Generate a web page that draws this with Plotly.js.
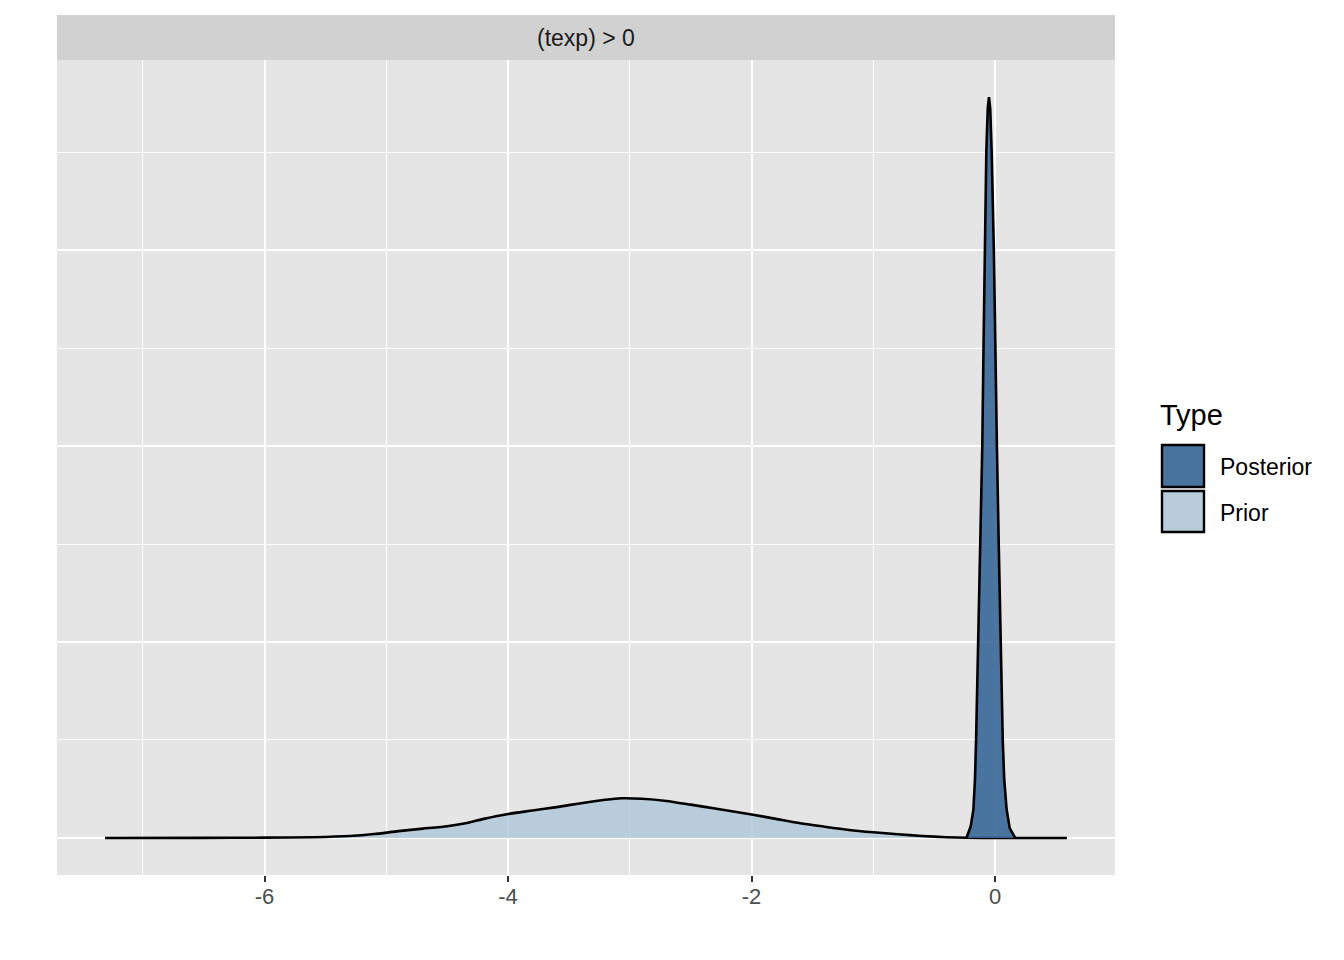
<!DOCTYPE html>
<html>
<head>
<meta charset="utf-8">
<script src="https://cdn.plot.ly/plotly-3.0.1.min.js"></script>
<style>html,body{margin:0;padding:0;background:#fff;}#chart{width:1344px;height:960px;}</style>
</head>
<body>
<div id="chart"></div>
<script>
// Prior density
const priorX = [-7.31, -6.5, -6.0, -5.6, -5.3, -5.1, -4.9, -4.7, -4.5, -4.35, -4.2, -4.0, -3.8, -3.6, -3.4, -3.2, -3.07, -2.9, -2.7, -2.5, -2.3, -2.0, -1.8, -1.6, -1.4, -1.2, -1.0, -0.8, -0.6, -0.4, -0.23, 0.0, 0.3, 0.59];
const priorY = [0, 0.001, 0.003, 0.008, 0.02, 0.04, 0.07, 0.095, 0.12, 0.15, 0.195, 0.245, 0.28, 0.315, 0.355, 0.39, 0.405, 0.40, 0.378, 0.34, 0.30, 0.24, 0.195, 0.15, 0.115, 0.082, 0.058, 0.038, 0.02, 0.008, 0.002, 0.0005, 0, 0];
// Posterior density
const postX = [-0.235, -0.20, -0.178, -0.165, -0.156, -0.137, -0.12, -0.105, -0.095, -0.085, -0.072, -0.06, -0.05, -0.04, -0.028, -0.01, 0.0, 0.015, 0.03, 0.045, 0.063, 0.075, 0.095, 0.12, 0.165];
const postY = [0, 0.12, 0.29, 0.6, 1.0, 2.0, 3.0, 4.0, 5.0, 6.0, 7.0, 7.45, 7.56, 7.45, 7.0, 6.0, 5.0, 4.0, 3.0, 2.0, 1.0, 0.6, 0.29, 0.1, 0];
const xTickVals = [-6, -4, -2, 0];
const xTickText = ["-6", "-4", "-2", "0"];
const seriesNames = ["Posterior", "Prior"];
const stripLabel = "(texp) > 0";
const legendTitle = "Type";

const postFill = "rgba(57,103,152,0.9)";
const priorFill = "rgba(174,198,217,0.8)";
const postKey = "#4A74A0";
const priorKey = "#B9CCDB";

const traces = [
  {x: priorX, y: priorY, type: "scatter", mode: "lines", fill: "tozeroy",
   fillcolor: priorFill, line: {color: "#000", width: 2.6, shape: "spline", smoothing: 0.6},
   name: seriesNames[1], showlegend: false, hoverinfo: "skip"},
  {x: postX, y: postY, type: "scatter", mode: "lines", fill: "tozeroy",
   fillcolor: postFill, line: {color: "#000", width: 2.6},
   name: seriesNames[0], showlegend: false, hoverinfo: "skip"}
];

const W = 1344, H = 960, L = 57, R = 229, T = 60, B = 85;
const pw = W - L - R, ph = H - T - B;
const px = v => (v - L) / pw;       // pixel -> paper x
const py = v => (H - B - v) / ph;   // pixel -> paper y

const font = "Liberation Sans, Arial, Helvetica, sans-serif";

const shapes = [
  // strip
  {type: "rect", xref: "paper", yref: "paper", x0: 0, x1: 1, y0: 1, y1: py(15),
   fillcolor: "#D1D1D1", line: {width: 0}, layer: "below"},
  // legend keys
  {type: "rect", xref: "paper", yref: "paper", x0: px(1162), x1: px(1204), y0: py(445), y1: py(487),
   fillcolor: postKey, line: {color: "#000", width: 2.4}},
  {type: "rect", xref: "paper", yref: "paper", x0: px(1162), x1: px(1204), y0: py(491), y1: py(532),
   fillcolor: priorKey, line: {color: "#000", width: 2.4}}
];

const annotations = [
  {xref: "paper", yref: "paper", x: px(586), y: py(38), text: stripLabel, showarrow: false,
   xanchor: "center", yanchor: "middle", font: {family: font, size: 23, color: "#1A1A1A"}},
  {xref: "paper", yref: "paper", x: px(1158), y: py(415), text: legendTitle, showarrow: false,
   xanchor: "left", yanchor: "middle", font: {family: font, size: 29, color: "#000"}},
  {xref: "paper", yref: "paper", x: px(1218), y: py(467), text: seriesNames[0], showarrow: false,
   xanchor: "left", yanchor: "middle", font: {family: font, size: 23, color: "#000"}},
  {xref: "paper", yref: "paper", x: px(1218), y: py(513), text: seriesNames[1], showarrow: false,
   xanchor: "left", yanchor: "middle", font: {family: font, size: 23, color: "#000"}}
];

const layout = {
  width: W, height: H,
  margin: {l: L, r: R, t: T, b: B, pad: 0},
  paper_bgcolor: "#FFFFFF",
  plot_bgcolor: "#E5E5E5",
  showlegend: false,
  font: {family: font},
  xaxis: {
    range: [-7.705, 0.985], tickmode: "array", tickvals: xTickVals, ticktext: xTickText,
    showgrid: true, gridcolor: "#FFFFFF", gridwidth: 2, zeroline: false, showline: false,
    ticks: "outside", ticklen: 6, tickwidth: 2, tickcolor: "#333333",
    ticklabelstandoff: -4,
    tickfont: {family: font, size: 22, color: "#4D4D4D"},
    minor: {tickmode: "linear", tick0: 1, dtick: 2, showgrid: true, gridcolor: "#FFFFFF", gridwidth: 1, ticklen: 0},
    fixedrange: true
  },
  yaxis: {
    range: [-0.378, 7.94], tickmode: "linear", tick0: 0, dtick: 2,
    showgrid: true, gridcolor: "#FFFFFF", gridwidth: 2, zeroline: false, showline: false,
    showticklabels: false, ticks: "",
    minor: {tickmode: "linear", tick0: 1, dtick: 2, showgrid: true, gridcolor: "#FFFFFF", gridwidth: 1, ticklen: 0},
    fixedrange: true
  },
  shapes: shapes,
  annotations: annotations
};

Plotly.newPlot("chart", traces, layout, {displayModeBar: false, staticPlot: true});
</script>
</body>
</html>
